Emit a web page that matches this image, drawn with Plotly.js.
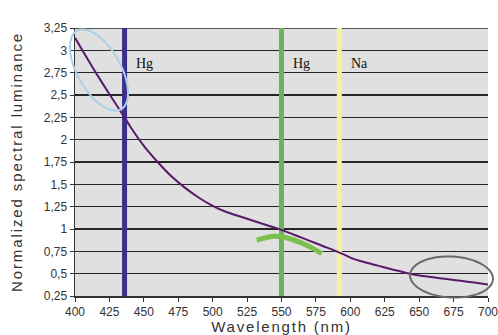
<!DOCTYPE html>
<html>
<head>
<meta charset="utf-8">
<script src="https://cdn.plot.ly/plotly-3.0.1.min.js"></script>
<style>
  html, body { margin: 0; padding: 0; background: #fff; }
  #chart { width: 498px; height: 335px; }
  .ytitle { letter-spacing: 1.9px; }
  .xtitle { letter-spacing: 1.8px; }
</style>
</head>
<body>
<div id="chart"></div>
<script>
// Luminance curve
const wavelength = [400, 410, 420, 430, 436, 440, 450, 460, 470, 480, 490, 500, 510, 520, 530, 540, 550, 560, 570, 580, 590,
                    596, 600, 610, 620, 630, 640, 650, 660, 670, 680, 690, 700];
const luminance  = [3.14, 2.88, 2.63, 2.39, 2.25, 2.15, 1.93, 1.75, 1.59, 1.46, 1.35, 1.26, 1.19, 1.14, 1.09, 1.04, 0.99, 0.93, 0.87, 0.81, 0.75,
                    0.71, 0.68, 0.63, 0.59, 0.55, 0.51, 0.48, 0.46, 0.44, 0.42, 0.40, 0.38];

// Spectral lines
const lineNames  = ["Hg", "Hg", "Na"];
const lineWl     = [436, 550, 592];
const lineColors = ["#3b2f8e", "#6cb35c", "#f6f29e"];

// Green hand-drawn arc
const arcX = [532, 543.8, 551.3, 568.3, 579.2];
const arcY = [0.874, 0.918, 0.910, 0.818, 0.725];

// Axis ticks
const xTicks = [400, 425, 450, 475, 500, 525, 550, 575, 600, 625, 650, 675, 700];
const yTicks = [0.25, 0.5, 0.75, 1, 1.25, 1.5, 1.75, 2, 2.25, 2.5, 2.75, 3, 3.25];
const yTickText = ["0,25", "0,5", "0,75", "1", "1,25", "1,5", "1,75", "2", "2,25", "2,5", "2,75", "3", "3,25"];

const yMin = 0.25, yMax = 3.25, xMin = 400, xMax = 700;

const traces = [];
lineWl.forEach((w, i) => {
  traces.push({
    x: [w, w], y: [yMin, yMax], mode: 'lines', type: 'scatter',
    line: {color: lineColors[i], width: 5}, hoverinfo: 'skip', showlegend: false
  });
});
traces.push({
  x: wavelength, y: luminance, mode: 'lines', type: 'scatter',
  line: {color: '#5a1a6a', width: 2, shape: 'spline', smoothing: 0.8}, showlegend: false
});
traces.push({
  x: arcX, y: arcY, mode: 'lines', type: 'scatter',
  line: {color: '#7dbf4e', width: 5, shape: 'spline'}, showlegend: false, hoverinfo: 'skip'
});

// plot area geometry (pixels)
const L = 75, R = 10, T = 28, B = 39, W = 498, H = 335;
const pw = W - L - R, ph = H - T - B;
function ellipsePath(cx, cy, a, b, angDeg) {
  const th = angDeg * Math.PI / 180;
  let d = '';
  for (let k = 0; k <= 72; k++) {
    const t = 2 * Math.PI * k / 72;
    const px = cx + a * Math.cos(t) * Math.cos(th) - b * Math.sin(t) * Math.sin(th);
    const py = cy + a * Math.cos(t) * Math.sin(th) + b * Math.sin(t) * Math.cos(th);
    const ux = (px - L) / pw, uy = (H - B - py) / ph;
    d += (k === 0 ? 'M' : 'L') + ux.toFixed(5) + ',' + uy.toFixed(5);
  }
  return d + 'Z';
}

const annotations = lineNames.map((n, i) => ({
  x: lineWl[i] + 7, y: 2.855, xref: 'x', yref: 'y', text: n, showarrow: false,
  xanchor: 'left', yanchor: 'middle',
  font: {family: 'Liberation Serif, Times New Roman, serif', size: 14, color: '#111'}
}));

const layout = {
  width: W, height: H,
  margin: {l: L, r: R, t: T, b: B, pad: 0},
  paper_bgcolor: '#ffffff',
  plot_bgcolor: '#e0e0e0',
  showlegend: false,
  xaxis: {
    range: [xMin, xMax], tickvals: xTicks, ticktext: xTicks.map(String),
    showgrid: false, zeroline: false, ticklabeloverflow: 'allow',
    showline: true, linecolor: '#333', linewidth: 1.5,
    ticks: 'outside', ticklen: 4, tickcolor: '#333', tickwidth: 1,
    tickfont: {family: 'Liberation Sans, Arial, sans-serif', size: 12, color: '#333'},
    title: {text: 'Wavelength (nm)', standoff: 0,
            font: {family: 'Liberation Sans, Arial, sans-serif', size: 15, color: '#333'}}
  },
  yaxis: {
    range: [yMin, yMax], tickvals: yTicks, ticktext: yTickText,
    showgrid: true, gridcolor: '#262626', gridwidth: 1.5, zeroline: false,
    showline: true, linecolor: '#333', linewidth: 1.5,
    ticks: 'outside', ticklen: 4, tickcolor: '#333', tickwidth: 1,
    tickfont: {family: 'Liberation Sans, Arial, sans-serif', size: 12, color: '#333'},
    title: {text: 'Normalized spectral luminance', standoff: 17,
            font: {family: 'Liberation Sans, Arial, sans-serif', size: 15, color: '#333'}}
  },
  shapes: [
    {type: 'line', xref: 'paper', yref: 'y', x0: 0, x1: 1, y0: yMax, y1: yMax,
     line: {color: '#262626', width: 1.5}, layer: 'below'},
    {type: 'path', xref: 'paper', yref: 'paper', path: ellipsePath(99, 70, 45, 21.6, 60.6),
     line: {color: '#a9d0e6', width: 2}},
    {type: 'path', xref: 'paper', yref: 'paper', path: ellipsePath(451.5, 277, 41.5, 20.5, 3),
     line: {color: '#6a6a6a', width: 2}}
  ],
  annotations: annotations
};

Plotly.newPlot('chart', traces, layout, {displayModeBar: false, staticPlot: true});
</script>
</body>
</html>
